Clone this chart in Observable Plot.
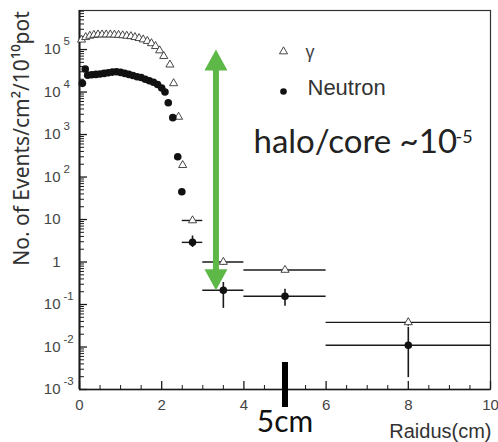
<!DOCTYPE html>
<html><head><meta charset="utf-8">
<script src="https://cdn.jsdelivr.net/npm/d3@7"></script>
<script src="https://cdn.jsdelivr.net/npm/@observablehq/plot@0.6"></script>
<style>body{margin:0;background:#fff} svg{display:block}</style>
</head><body><div id="chart"></div>
<script>
// ---- data ----
const gammaR = [0.05,0.15,0.25,0.35,0.45,0.55,0.65,0.75,0.85,0.95,1.05,1.15,1.25,1.35,1.45,1.55,1.65,1.75,1.85,1.95,2.05,2.2,2.29,2.41,2.51];
const gammaV = [1.7e5,1.95e5,2.1e5,2.2e5,2.25e5,2.25e5,2.25e5,2.25e5,2.22e5,2.2e5,2.15e5,2.1e5,2.05e5,1.95e5,1.85e5,1.72e5,1.58e5,1.4e5,1.2e5,9.5e4,7.0e4,4.4e4,1.6e4,2.6e3,190];
const neutronR = [0.07,0.14,0.2,0.3,0.4,0.5,0.6,0.7,0.8,0.9,1.0,1.1,1.2,1.3,1.4,1.5,1.6,1.7,1.8,1.9,2.0,2.08,2.16,2.27,2.39,2.49];
const neutronV = [1.6e4,3.5e4,2.5e4,2.55e4,2.6e4,2.65e4,2.75e4,2.85e4,2.95e4,3.0e4,2.9e4,2.75e4,2.6e4,2.45e4,2.3e4,2.2e4,2.0e4,1.85e4,1.7e4,1.5e4,1.25e4,1.0e4,5.6e3,2.5e3,300,45];
// binned points with error bars
const binR   = [2.75, 3.5, 5, 8];
const binLo  = [2.5, 3, 4, 6];
const binHi  = [3, 4, 6, 10];
const gammaBinV  = [9.5, 1.0, 0.65, 0.038];
const gammaBinLo = [8.2, 0.85, 0.57, 0.031];
const gammaBinHi = [11, 1.17, 0.74, 0.046];
const neutronBinV  = [2.9, 0.216, 0.156, 0.011];
const neutronBinLo = [2.2, 0.081, 0.091, 0.0019];
const neutronBinHi = [4.1, 0.33, 0.23, 0.029];
// annotation values
const arrowR = [3.32];
const arrowTop = 1.0e5;
const arrowBottom = 0.216;
const markR = [5];
// axis ticks
const yExponents = [-3,-2,-1,0,1,2,3,4,5];
const yMinorMult = [2,3,4,5,6,7,8,9];
const xMajor = [0,2,4,6,8,10];
const xMinorStep = 0.5;

// ---- build tables ----
const gamma = gammaR.map((r,i)=>({r, v:gammaV[i]}));
const neutron = neutronR.map((r,i)=>({r, v:neutronV[i]}));
const gBins = binR.map((r,i)=>({r, lo:binLo[i], hi:binHi[i], v:gammaBinV[i], vlo:gammaBinLo[i], vhi:gammaBinHi[i]}));
const nBins = binR.map((r,i)=>({r, lo:binLo[i], hi:binHi[i], v:neutronBinV[i], vlo:neutronBinLo[i], vhi:neutronBinHi[i]}));
const yTop = 8.3e5;
const yMajor = yExponents.map(e=>({e, v:Math.pow(10,e)}));
const yMinor = [];
for (const e of yExponents) for (const m of yMinorMult) { const v = m*Math.pow(10,e); if (v < yTop) yMinor.push(v); }
const xMinor = [];
for (let v = xMinorStep; v < 10; v += xMinorStep) if (!xMajor.includes(v)) xMinor.push(v);

const green = "#5db847";
const ink = "#1a1a1a";
const headUp = {draw(ctx){ ctx.moveTo(0,0); ctx.lineTo(-11.5,21); ctx.lineTo(11.5,21); ctx.closePath(); }};
const headDown = {draw(ctx){ ctx.moveTo(0,0); ctx.lineTo(-11.5,-21); ctx.lineTo(11.5,-21); ctx.closePath(); }};
const sans = "Liberation Sans, Arial, sans-serif";
const gill = "Lato, Open Sans, sans-serif";
const mid = {lineAnchor: "middle"};

const chart = Plot.plot({
  width: 498, height: 442,
  marginLeft: 79, marginRight: 8, marginTop: 10, marginBottom: 53,
  style: {fontFamily: sans, background: "white"},
  x: {domain: [0, 10], axis: null},
  y: {type: "log", domain: [1e-3, yTop], axis: null},
  marks: [
    Plot.frame({stroke: "#333", strokeWidth: 1.2}),
    // ticks (inward)
    Plot.tickY(yMajor, {y: "v", stroke: ink, strokeWidth: 1.3, insetRight: 403}),
    Plot.tickY(yMinor, {y: d=>d, stroke: ink, strokeWidth: 1, insetRight: 406}),
    Plot.tickX(xMajor, {x: d=>d, stroke: ink, strokeWidth: 1.3, insetTop: 371}),
    Plot.tickX(xMinor, {x: d=>d, stroke: ink, strokeWidth: 1, insetTop: 375}),
    Plot.ruleX([0], {stroke: ink, strokeWidth: 2}),
    Plot.ruleY([1e-3], {stroke: ink, strokeWidth: 1.6}),
    // y tick labels
    Plot.text(yMajor, {...mid, y: "v", frameAnchor: "left", dx: -19, textAnchor: "end", text: d => d.e === 0 ? "1" : "10", fontSize: 15, fill: "#444"}),
    Plot.text(yMajor, {...mid, y: "v", frameAnchor: "left", dx: -16, dy: -8, textAnchor: "start", text: d => (d.e === 0 || d.e === 1) ? "" : String(d.e), fontSize: 11.5, fill: "#444"}),
    // x tick labels
    Plot.text(xMajor, {...mid, x: d=>d, frameAnchor: "bottom", dy: 16, textAnchor: "middle", text: d=>String(d), fontSize: 15, fill: "#444"}),
    // axis titles
    Plot.text(["Raidus(cm)"], {...mid, frameAnchor: "bottom-right", dx: 1, dy: 42, textAnchor: "end", fontSize: 20, fill: "#333"}),
    Plot.text(["No. of Events/cm²/10¹⁰pot"], {...mid, frameAnchor: "top-left", dx: -57, dy: 128, textAnchor: "middle", rotate: -90, fontSize: 21, fontFamily: "Noto Sans, DejaVu Sans, sans-serif", fill: "#333"}),
    // error bars
    Plot.ruleY(gBins, {y: "v", x1: "lo", x2: "hi", stroke: ink, strokeWidth: 1.4}),
    Plot.ruleY(nBins, {y: "v", x1: "lo", x2: "hi", stroke: ink, strokeWidth: 1.4}),
    Plot.ruleX(gBins, {x: "r", y1: "vlo", y2: "vhi", stroke: ink, strokeWidth: 1.4}),
    Plot.ruleX(nBins, {x: "r", y1: "vlo", y2: "vhi", stroke: ink, strokeWidth: 1.6}),
    // data points
    Plot.dot(gamma, {x: "r", y: "v", symbol: "triangle", r: 3, stroke: "#333", fill: "white", strokeWidth: 0.9}),
    Plot.dot(gBins, {x: "r", y: "v", symbol: "triangle", r: 3, stroke: "#333", fill: "white", strokeWidth: 0.9}),
    Plot.dot(neutron, {x: "r", y: "v", r: 3.8, fill: "#111"}),
    Plot.dot(nBins, {x: "r", y: "v", r: 3.8, fill: "#111"}),
    // green double arrow
    Plot.ruleX(arrowR, {x: d=>d, y1: ()=>arrowTop, y2: ()=>arrowBottom, stroke: green, strokeWidth: 6, insetTop: 19, insetBottom: 19}),
    Plot.dot(arrowR, {x: d=>d, y: ()=>arrowTop, symbol: headUp, r: 5, fill: green, stroke: "none"}),
    Plot.dot(arrowR, {x: d=>d, y: ()=>arrowBottom, symbol: headDown, r: 5, fill: green, stroke: "none"}),
    // legend
    Plot.dot([0], {frameAnchor: "top-left", dx: 204, dy: 41, symbol: "triangle", r: 3, stroke: "#333", fill: "white", strokeWidth: 0.9}),
    Plot.text(["γ"], {...mid, frameAnchor: "top-left", dx: 226, dy: 42, textAnchor: "start", fontSize: 18, fill: "#444"}),
    Plot.dot([0], {frameAnchor: "top-left", dx: 204, dy: 81, r: 3.3, fill: "#111"}),
    Plot.text(["Neutron"], {...mid, frameAnchor: "top-left", dx: 228, dy: 77, textAnchor: "start", fontSize: 22, fill: "#333"}),
    // halo/core annotation
    Plot.text(["halo/core ~10"], {...mid, frameAnchor: "top-left", dx: 174, dy: 132, textAnchor: "start", fontSize: 33, fontFamily: gill, fill: "#222"}),
    Plot.text(["-5"], {...mid, frameAnchor: "top-left", dx: 376, dy: 127, textAnchor: "start", fontSize: 18, fontFamily: gill, fill: "#222"}),
    // 5cm marker
    Plot.ruleX(markR, {x: d=>d, stroke: "#000", strokeWidth: 6, insetTop: 352, insetBottom: -18}),
    Plot.text(markR, {...mid, x: d=>d, frameAnchor: "bottom", dy: 33, textAnchor: "middle", text: ()=>"5cm", fontSize: 30, fontFamily: gill, fill: "#111"})
  ]
});
document.getElementById("chart").appendChild(chart);
</script></body></html>
